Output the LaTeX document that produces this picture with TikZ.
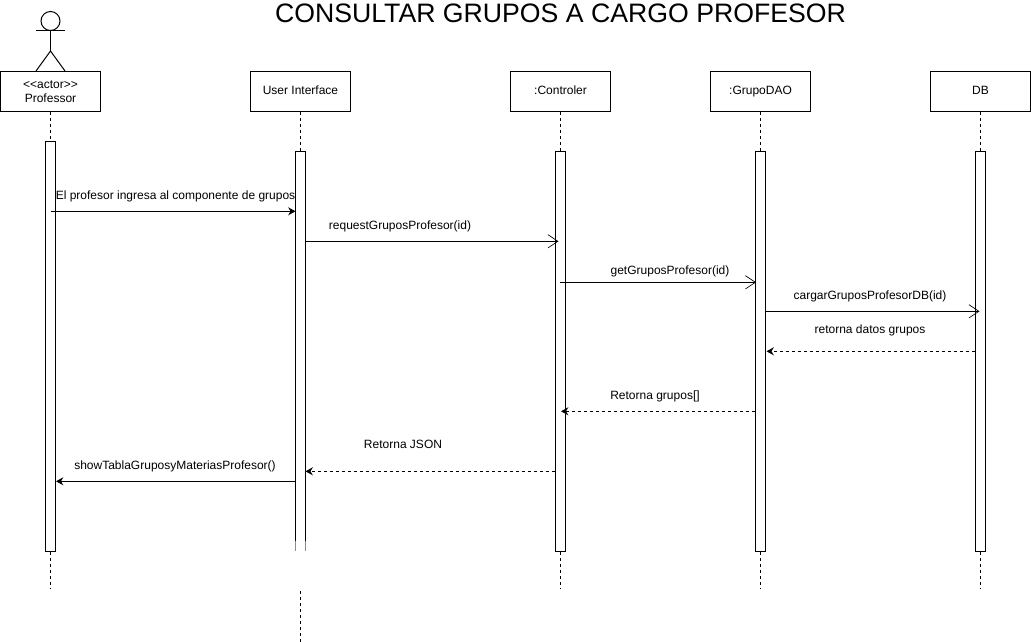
\documentclass[tikz,border=0pt]{standalone}
\usepackage{fontspec}
\setmainfont{Liberation Sans}
\usetikzlibrary{arrows.meta, positioning, calc}
\tikzset{
    headbox/.style={
        rectangle,
        draw=black,
        fill=white,
        minimum width=75pt,
        minimum height=30pt,
        inner sep=0pt,
        align=center,
        font=\fontsize{9pt}{10.5pt}\selectfont,
        line width=0.75pt
    },
    singlehead/.style={
        headbox,
        text height=7pt,
        text depth=2.4pt
    },
    activebar/.style={
        rectangle,
        draw=black,
        fill=white,
        minimum width=7.5pt,
        minimum height=300pt,
        inner sep=0pt,
        line width=0.75pt
    },
    lifeline/.style={
        dash pattern=on 2.25pt off 2.25pt,
        draw=black,
        line width=0.75pt
    },
    callarrow/.style={
        -{Stealth[length=5.5pt, width=6pt, inset=1.8pt]},
        draw=black,
        line width=0.75pt
    },
    openarrow/.style={
        -{Straight Barb[length=7.5pt, width=10pt, line width=0.5pt]},
        draw=black,
        line width=0.75pt
    },
    backarrow/.style={
        callarrow,
        dash pattern=on 2.25pt off 2.25pt
    },
    msgtext/.style={
        inner sep=0pt,
        text height=7pt,
        text depth=2.4pt,
        font=\fontsize{9pt}{11pt}\selectfont
    },
    limb/.style={
        draw=black,
        line width=0.75pt
    }
}
\begin{document}
\begin{tikzpicture}[x=0.75pt, y=-0.75pt]
    \useasboundingbox (0,0) rectangle (1031,642);

    % Title
    \node[inner sep=0pt, font=\fontsize{20pt}{24pt}\selectfont] (title) at (560.5,13) {CONSULTAR GRUPOS A CARGO PROFESOR};

    % Heads
    \node[headbox] (prof) at (50.5,91.3) {<{}<actor>{}>\\Professor};
    \node[singlehead] (ui) at (300.5,91.3) {User Interface};
    \node[singlehead] (ctrl) at (560.5,91.3) {:Controler};
    \node[singlehead] (dao) at (760.5,91.3) {:GrupoDAO};
    \node[singlehead] (db) at (980.5,91.3) {DB};

    % Actor
    \node[circle, draw=black, line width=0.75pt, minimum size=14.25pt, inner sep=0pt] (actorhead) at (50.5,21) {};
    \coordinate (armleft) at (36,31);
    \coordinate (armright) at (65,31);
    \coordinate (hip) at (50.5,51);
    \coordinate (footleft) at (36,71);
    \coordinate (footright) at (65,71);
    \draw[limb] (actorhead.south) -- (hip);
    \draw[limb] (armleft) -- (armright);
    \draw[limb] (footleft) -- (hip) -- (footright);

    % Activation bars
    \node[activebar, minimum height=307.5pt] (profbar) at (50.5,346.3) {};
    \node[activebar, draw=none, outer sep=0pt] (uibar) at (300.5,351.3) {};
    \node[activebar] (ctrlbar) at (560.5,351.3) {};
    \node[activebar] (daobar) at (760.5,351.3) {};
    \node[activebar] (dbbar) at (980.5,351.3) {};

    % The open bottom of the interface bar
    \coordinate (uifade) at (0,541);
    \draw[limb] (uibar.west |- uifade) -- (uibar.north west) -- (uibar.north east) -- (uibar.east |- uifade);
    \draw[limb, black!45] (uibar.west |- uifade) -- (uibar.south west);
    \draw[limb, black!45] (uibar.east |- uifade) -- (uibar.south east);

    % Lifelines
    \coordinate (lineend) at (0,589);
    \coordinate (uistart) at (300.5,591);
    \coordinate (uiend) at (300.5,642);
    \draw[lifeline] (prof) -- (profbar);
    \draw[lifeline] (ui) -- (uibar);
    \draw[lifeline] (ctrl) -- (ctrlbar);
    \draw[lifeline] (dao) -- (daobar);
    \draw[lifeline] (db) -- (dbbar);
    \draw[lifeline] (profbar.south) -- (profbar.south |- lineend);
    \draw[lifeline] (uistart) -- (uiend);
    \draw[lifeline] (ctrlbar.south) -- (ctrlbar.south |- lineend);
    \draw[lifeline] (daobar.south) -- (daobar.south |- lineend);
    \draw[lifeline] (dbbar.south) -- (dbbar.south |- lineend);

    % Messages
    \coordinate (m1) at (0,211.3);
    \coordinate (m2) at (0,241.3);
    \coordinate (m3) at (0,282.3);
    \coordinate (m4) at (0,311.3);
    \coordinate (m5) at (0,351.3);
    \coordinate (m6) at (0,411.3);
    \coordinate (m7) at (0,471.3);
    \coordinate (m8) at (0,481.3);

    \draw[callarrow] (profbar.center |- m1) -- (uibar.west |- m1);
    \draw[openarrow] (uibar.east |- m2) -- ($(ctrlbar.west |- m2)+(3.5,0)$);
    \draw[openarrow] ($(ctrlbar.west |- m3)+(5,0)$) -- ($(daobar.west |- m3)+(1,0)$);
    \draw[openarrow] (daobar.east |- m4) -- ($(dbbar.west |- m4)+(4.5,0)$);
    \draw[backarrow] (dbbar.west |- m5) -- ($(daobar.east |- m5)+(0.5,0)$);
    \draw[backarrow] (daobar.west |- m6) -- ($(ctrlbar.east |- m6)+(-5,0)$);
    \draw[backarrow] (ctrlbar.west |- m7) -- (uibar.east |- m7);
    \draw[callarrow] (uibar.west |- m8) -- (profbar.east |- m8);

    % Labels
    \node[msgtext] (t1) at (175.5,196) {El profesor ingresa al componente de grupos};
    \node[msgtext] (t2) at (400,226) {requestGruposProfesor(id)};
    \node[msgtext] (t3) at (670,271) {getGruposProfesor(id)};
    \node[msgtext] (t4) at (870,296) {cargarGruposProfesorDB(id)};
    \node[msgtext] (t5) at (870,330) {retorna datos grupos};
    \node[msgtext] (t6) at (655,396) {Retorna grupos[]};
    \node[msgtext] (t7) at (403,445) {Retorna JSON};
    \node[msgtext] (t8) at (175,466) {showTablaGruposyMateriasProfesor()};
\end{tikzpicture}
\end{document}
